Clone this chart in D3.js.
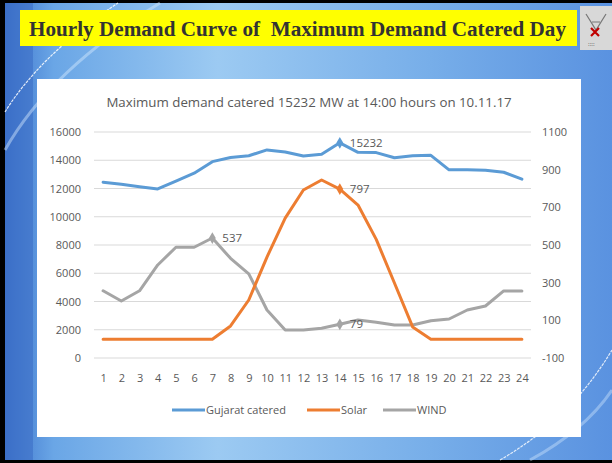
<!DOCTYPE html>
<html lang="en">
<head>
<meta charset="UTF-8">
<title>Hourly Demand Curve</title>
<script src="https://d3js.org/d3.v7.min.js"></script>
<style>
  body { margin: 0; padding: 0; background: #000; }
  svg { display: block; }
</style>
</head>
<body>
<svg id="slide" width="612" height="463"></svg>
<script>
// hours of the day
const hours = d3.range(1, 25);
// MW values
const gujarat = [12450, 12300, 12130, 11970, 12530, 13080, 13900, 14200, 14320, 14730, 14590, 14300,
                 14420, 15232, 14560, 14540, 14180, 14320, 14350, 13320, 13320, 13300, 13150, 12660];
const solar = [0, 0, 0, 0, 0, 0, 0, 70, 208, 436, 643, 792, 845, 797, 712, 530, 298, 65, 0, 0, 0, 0, 0, 0];
const wind = [257, 203, 257, 394, 488, 488, 537, 429, 347, 155, 49, 49, 58, 79, 102, 90, 75, 75, 98, 107, 155, 176, 256, 256];
const leftTicks = d3.range(0, 16001, 2000);
const rightTicks = d3.range(-100, 1101, 200);
const seriesNames = ["Gujarat catered", "Solar", "WIND"];
const seriesColors = ["#5b9bd5", "#ed7d31", "#a5a5a5"];
// points that carry a marker and label: [series index, hour]
const labelled = [[0, 14], [1, 14], [2, 7], [2, 14]];

const svg = d3.select("#slide");
const defs = svg.append("defs");

// slide background
let bg = defs.append("linearGradient").attr("id", "bg").attr("x1", 0).attr("x2", 1).attr("y1", 0).attr("y2", 0);
bg.append("stop").attr("offset", "0").attr("stop-color", "#3d74cc");
bg.append("stop").attr("offset", "0.08").attr("stop-color", "#6aa6e6");
bg.append("stop").attr("offset", "0.35").attr("stop-color", "#9ccaf2");
bg.append("stop").attr("offset", "0.7").attr("stop-color", "#77aee9");
bg.append("stop").attr("offset", "1").attr("stop-color", "#5a92e0");

svg.append("rect").attr("width", 612).attr("height", 463).attr("fill", "#000");
svg.append("rect").attr("x", 5).attr("y", 3).attr("width", 607).attr("height", 457).attr("fill", "url(#bg)");

// darker striped strip on the left
svg.append("rect").attr("x", 5).attr("y", 3).attr("width", 28).attr("height", 457)
  .attr("fill", "#3a6cc4").attr("opacity", 0.55);

// white swooshes
svg.append("path").attr("d", "M5,112 Q40,55 118,3").attr("fill", "none")
  .attr("stroke", "#ffffff").attr("stroke-width", 1.2).attr("opacity", 0.85).attr("stroke-dasharray", "3,1");
svg.append("path").attr("d", "M5,150 Q50,70 160,3").attr("fill", "none")
  .attr("stroke", "#d8ecff").attr("stroke-width", 3).attr("opacity", 0.45);
svg.append("path").attr("d", "M500,460 Q570,420 612,350").attr("fill", "none")
  .attr("stroke", "#ffffff").attr("stroke-width", 1.2).attr("opacity", 0.8).attr("stroke-dasharray", "3,1");
svg.append("path").attr("d", "M530,460 Q585,430 612,390").attr("fill", "none")
  .attr("stroke", "#d8ecff").attr("stroke-width", 3).attr("opacity", 0.4);

// yellow title box
svg.append("rect").attr("x", 20).attr("y", 10).attr("width", 557).attr("height", 36).attr("fill", "#ffff00");
svg.append("text").attr("x", 29).attr("y", 36)
  .attr("font-family", "'Liberation Serif', 'Times New Roman', serif")
  .attr("font-weight", "bold").attr("font-size", 20.5).attr("fill", "#333333")
  .attr("xml:space", "preserve")
  .attr("textLength", 537).attr("lengthAdjust", "spacingAndGlyphs")
  .text("Hourly Demand Curve of  Maximum Demand Catered Day");

// logo
svg.append("rect").attr("x", 580).attr("y", 6).attr("width", 32).attr("height", 44).attr("fill", "#d8d8d8");
svg.append("path").attr("d", "M586,14 L596,30 L606,14 M592,22 L600,22").attr("stroke", "#777").attr("stroke-width", 1.2).attr("fill", "none");
svg.append("path").attr("d", "M591,36 L599,28 M591,28 L599,36").attr("stroke", "#c00000").attr("stroke-width", 2.2);
svg.append("text").attr("x", 588).attr("y", 46).attr("font-size", 6).attr("fill", "#555").text("::::");

// chart panel
svg.append("rect").attr("x", 37).attr("y", 79).attr("width", 544).attr("height", 358).attr("fill", "#ffffff");

const font = "'Open Sans', 'Noto Sans', sans-serif";
const textColor = "#595959";

const x = d3.scalePoint().domain(hours).range([94, 531]).padding(0.5);
const yL = d3.scaleLinear().domain([0, 16000]).range([358, 132]);
const yR = d3.scaleLinear().domain([-100, 1100]).range([358, 132]);

svg.append("text").attr("x", 309).attr("y", 107).attr("text-anchor", "middle")
  .attr("font-family", font).attr("font-size", 13.3).attr("fill", textColor)
  .text("Maximum demand catered 15232 MW at 14:00 hours on 10.11.17");

// gridlines
svg.append("g").selectAll("line").data(leftTicks).enter().append("line")
  .attr("x1", 94).attr("x2", 531)
  .attr("y1", d => yL(d)).attr("y2", d => yL(d))
  .attr("stroke", "#d9d9d9").attr("stroke-width", 1);

// axes
let gL = svg.append("g").attr("transform", "translate(86,0)")
  .call(d3.axisLeft(yL).tickValues(leftTicks).tickSize(0).tickPadding(5).tickFormat(d3.format("d")));
let gR = svg.append("g").attr("transform", "translate(537,0)")
  .call(d3.axisRight(yR).tickValues(rightTicks).tickSize(0).tickPadding(5).tickFormat(d => d < 0 ? "-" + Math.abs(d) : d));
let gX = svg.append("g").attr("transform", "translate(0,370)")
  .call(d3.axisBottom(x).tickSize(0).tickPadding(4));
[gL, gR, gX].forEach(g => {
  g.select(".domain").remove();
  g.selectAll("text").attr("font-family", font).attr("font-size", 11).attr("fill", textColor);
});

// lines
const seriesData = [[gujarat, yL], [solar, yR], [wind, yR]];
const line = (vals, y) => d3.line().x((d, i) => x(hours[i])).y(d => y(d))(vals);
// draw gray first, then orange, then blue on top
[2, 1, 0].forEach(k => {
  svg.append("path").attr("d", line(seriesData[k][0], seriesData[k][1]))
    .attr("fill", "none").attr("stroke", seriesColors[k]).attr("stroke-width", 3)
    .attr("stroke-linejoin", "round").attr("stroke-linecap", "round");
});

// markers and labels
labelled.forEach(([k, h]) => {
  const v = seriesData[k][0][h - 1];
  const px = x(h), py = seriesData[k][1](v);
  svg.append("path").attr("transform", "translate(" + px + "," + py + ")")
    .attr("d", d3.symbol().type(d3.symbolDiamond).size(40)())
    .attr("fill", seriesColors[k]);
  svg.append("text").attr("x", px + 10).attr("y", py + 4)
    .attr("font-family", font).attr("font-size", 11.5).attr("fill", textColor)
    .text(v);
});

// legend
const legX = [172, 307, 383];
seriesNames.forEach((n, i) => {
  svg.append("line").attr("x1", legX[i]).attr("x2", legX[i] + 33).attr("y1", 410).attr("y2", 410)
    .attr("stroke", seriesColors[i]).attr("stroke-width", 3);
  svg.append("text").attr("x", legX[i] + 34).attr("y", 414)
    .attr("font-family", font).attr("font-size", 11).attr("fill", textColor).text(n);
});
</script>
</body>
</html>
